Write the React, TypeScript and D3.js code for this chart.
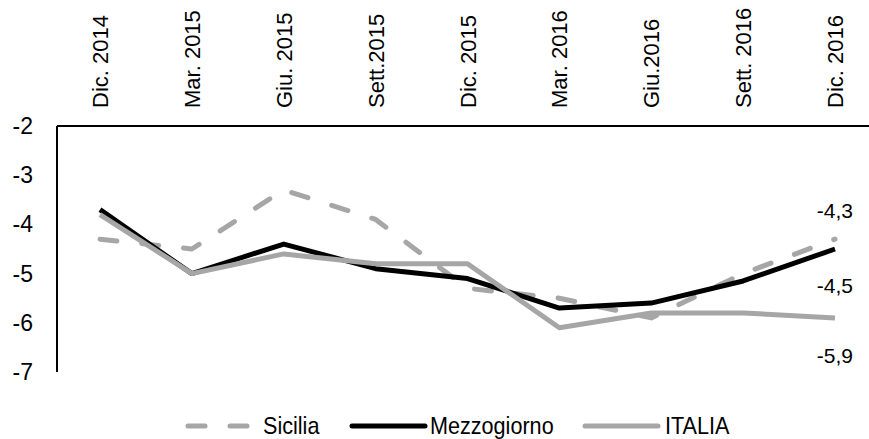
import React from "react";
import * as d3 from "d3";

const categories = ["Dic. 2014", "Mar. 2015", "Giu. 2015", "Sett.2015", "Dic. 2015", "Mar. 2016", "Giu.2016", "Sett. 2016", "Dic. 2016"];
const sicilia = [-4.3, -4.5, -3.3, -3.9, -5.3, -5.5, -5.9, -5.0, -4.3];
const mezzogiorno = [-3.7, -5.0, -4.4, -4.9, -5.1, -5.7, -5.6, -5.15, -4.5];
const italia = [-3.8, -5.0, -4.6, -4.8, -4.8, -6.1, -5.8, -5.8, -5.9];
const yTicks = [-2, -3, -4, -5, -6, -7];
const seriesNames = ["Sicilia", "Mezzogiorno", "ITALIA"];
const endLabels = ["-4,3", "-4,5", "-5,9"];

const W = 869, H = 439;
const FONT = "'Liberation Sans', Arial, sans-serif";
const GREY = "#a6a6a6";

export default function App() {
  const x = d3.scalePoint<string>().domain(categories).range([100, 835]);
  const y = d3.scaleLinear().domain([-2, -7]).range([126, 372]);
  const line = d3.line<number>().x((_, i) => x(categories[i])!).y(d => y(d));
  const series = [
    { name: seriesNames[0], data: sicilia, color: GREY, dash: "17 25", label: endLabels[0], dy: -21 },
    { name: seriesNames[1], data: mezzogiorno, color: "#000", dash: undefined, label: endLabels[1], dy: 44 },
    { name: seriesNames[2], data: italia, color: GREY, dash: undefined, label: endLabels[2], dy: 45 },
  ];
  const legend = [
    { x1: 188, x2: 248, tx: 263 },
    { x1: 352, x2: 425, tx: 430 },
    { x1: 585, x2: 658, tx: 665 },
  ];
  const ly = 426;
  return (
    <svg width={W} height={H} style={{ position: "absolute", left: 0, top: 0, background: "#fff" }} fontFamily={FONT}>
      <line x1={57} x2={W} y1={y(-2)} y2={y(-2)} stroke="#000" strokeWidth={2} />
      <line x1={57} x2={57} y1={y(-2)} y2={y(-7)} stroke="#000" strokeWidth={2} />
      {yTicks.map(t => (
        <text key={t} x={33} y={y(t)} dy="0.35em" textAnchor="end" fontSize={23}>{t}</text>
      ))}
      {categories.map(c => (
        <text key={c} transform={`translate(${x(c)! + 8},108) rotate(-90)`} textAnchor="start" fontSize={22}>{c}</text>
      ))}
      {series.map(s => (
        <path key={s.name} d={line(s.data)!} fill="none" stroke={s.color} strokeWidth={5}
          strokeDasharray={s.dash} strokeLinecap={s.dash ? "round" : "butt"} strokeLinejoin="round" />
      ))}
      {series.map(s => (
        <text key={s.name + "l"} x={853} y={y(s.data[s.data.length - 1]) + s.dy} textAnchor="end" fontSize={21}>{s.label}</text>
      ))}
      {series.map((s, i) => (
        <g key={s.name + "g"}>
          <line x1={legend[i].x1} x2={legend[i].x2} y1={ly} y2={ly} stroke={s.color} strokeWidth={5}
            strokeDasharray={s.dash} strokeLinecap="round" />
          <text transform={`translate(${legend[i].tx},434) scale(0.9,1)`} fontSize={24}>{s.name}</text>
        </g>
      ))}
    </svg>
  );
}
